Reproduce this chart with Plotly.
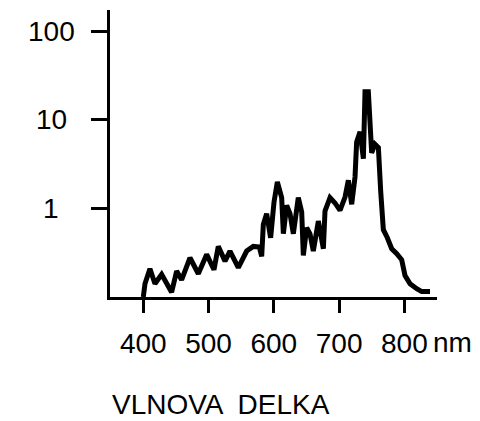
import plotly.graph_objects as go
import numpy as np

wavelength_nm = [400, 402.6, 410.2, 417.9, 428.1, 438.3, 443.4, 451.1, 458.7, 471.5,
                 484.3, 497.1, 508.3, 514.9, 525.2, 532.8, 545.6, 558.4, 568.6, 577.8,
                 581.4, 583.9, 589.0, 595.1, 600.3, 605.4, 612.0, 614.6, 619.7, 624.8,
                 629.9, 637.5, 642.7, 645.2, 650.3, 655.4, 660.5, 668.2, 675.9, 678.4,
                 686.1, 693.7, 701.4, 709.1, 714.2, 719.3, 724.4, 726.9, 732.1, 737.2,
                 739.7, 744.8, 747.4, 749.9, 755.0, 760.2, 763.7, 767.8, 773.9, 780.6,
                 788.3, 795.9, 801.0, 808.7, 818.9, 826.6, 839.3]
intensity = [0.1, 0.141, 0.208, 0.141, 0.180, 0.131, 0.113, 0.196, 0.156, 0.277,
             0.183, 0.302, 0.203, 0.372, 0.254, 0.330, 0.214, 0.330, 0.372, 0.366,
             0.287, 0.659, 0.871, 0.466, 1.18, 1.98, 1.32, 0.517, 1.08, 0.871,
             0.517, 1.32, 0.909, 0.294, 0.605, 0.517, 0.330, 0.719, 0.350, 0.933,
             1.32, 1.15, 0.949, 1.34, 2.07, 1.11, 2.26, 5.62, 7.29, 3.64,
             20.6, 20.6, 8.90, 4.22, 5.29, 4.85, 1.57, 0.574, 0.466, 0.350,
             0.308, 0.263, 0.175, 0.141, 0.124, 0.115, 0.115]

x_ticks = [400, 500, 600, 700, 800]
x_tick_labels = ["400", "500", "600", "700", "800"]
y_ticks = [1, 10, 100]
y_tick_labels = ["1", "10", "100"]
x_unit = "nm"
x_title = "VLNOVA  DELKA"

FONT = "Liberation Sans"
FS = 28

fig = go.Figure()
fig.add_trace(go.Scatter(x=wavelength_nm, y=intensity, mode="lines",
                         line=dict(color="black", width=5), showlegend=False))

fig.update_layout(
    width=480, height=421,
    margin=dict(l=110, r=43, t=10, b=124),
    paper_bgcolor="white", plot_bgcolor="white",
    font=dict(family=FONT, size=FS, color="black"),
)
fig.update_xaxes(range=[349, 850], showgrid=False, zeroline=False,
                 showline=True, linecolor="black", linewidth=3,
                 ticks="outside", ticklen=13, tickwidth=3, tickcolor="black",
                 tickvals=x_ticks, ticktext=x_tick_labels,
                 tickfont=dict(family=FONT, size=FS, color="black"),
                 ticklabelstandoff=6)
fig.update_yaxes(type="log", range=[-1, 2.237], showgrid=False, zeroline=False,
                 showline=True, linecolor="black", linewidth=3,
                 ticks="outside", ticklen=16, tickwidth=3, tickcolor="black",
                 tickvals=y_ticks, showticklabels=False)

for v, t in zip(y_ticks, y_tick_labels):
    fig.add_annotation(x=-0.180, xref="paper", y=np.log10(v), yref="y",
                       text=t, showarrow=False, xanchor="center", yanchor="middle",
                       font=dict(family=FONT, size=FS, color="black"))

fig.add_annotation(x=1.046, xref="paper", y=-0.157, yref="paper", text=x_unit,
                   showarrow=False, xanchor="center", yanchor="middle",
                   font=dict(family=FONT, size=FS, color="black"))
fig.add_annotation(x=0.0, xref="paper", y=-0.373, yref="paper", text=x_title,
                   showarrow=False, xanchor="left", yanchor="middle",
                   font=dict(family=FONT, size=FS, color="black"))

fig.write_html("out.html")
